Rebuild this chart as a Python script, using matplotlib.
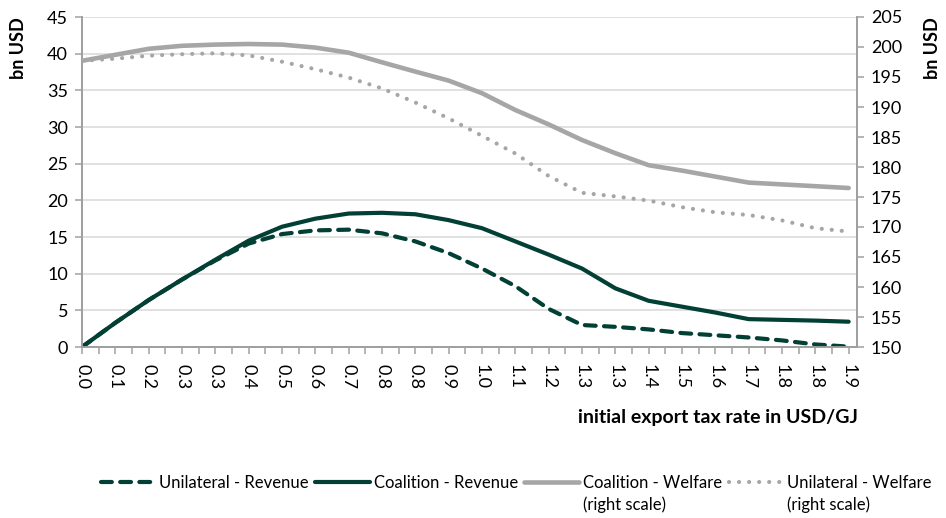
import matplotlib
matplotlib.use("Agg")
import matplotlib.pyplot as plt
import numpy as np

# ---- data ----
x_labels = ["0.0", "0.1", "0.2", "0.3", "0.3", "0.4", "0.5", "0.6", "0.7", "0.8",
            "0.8", "0.9", "1.0", "1.1", "1.2", "1.3", "1.3", "1.4", "1.5", "1.6",
            "1.7", "1.8", "1.8", "1.9"]
unilateral_revenue = [0.0, 3.3, 6.4, 9.2, 11.8, 14.1, 15.4, 15.9, 16.0, 15.5,
                      14.4, 12.8, 10.7, 8.3, 5.2, 3.0, 2.75, 2.4, 1.9, 1.6,
                      1.3, 0.9, 0.35, 0.05]
coalition_revenue = [0.0, 3.3, 6.4, 9.2, 11.9, 14.5, 16.4, 17.5, 18.2, 18.3,
                     18.1, 17.3, 16.2, 14.4, 12.6, 10.7, 8.0, 6.3, 5.5, 4.7,
                     3.8, 3.7, 3.6, 3.45]
coalition_welfare = [197.7, 198.7, 199.7, 200.2, 200.4, 200.5, 200.4, 199.9, 199.05, 197.45,
                     195.9, 194.4, 192.3, 189.5, 187.1, 184.5, 182.3, 180.3, 179.4, 178.4,
                     177.4, 177.1, 176.8, 176.5]
unilateral_welfare = [197.7, 198.05, 198.55, 198.8, 198.95, 198.6, 197.55, 196.3, 194.9, 193.1,
                      190.75, 188.1, 185.2, 182.25, 178.5, 175.7, 175.1, 174.4, 173.3, 172.45,
                      172.0, 171.1, 169.8, 169.25]
series_names = ["Unilateral - Revenue", "Coalition - Revenue",
                "Coalition - Welfare", "Unilateral - Welfare"]
right_note = "(right scale)"
y_label = "bn USD"
x_title = "initial export tax rate in USD/GJ"

# ---- style ----
plt.rcParams['font.family'] = ['Lato', 'DejaVu Sans']
DARK = '#023F35'
GRAY = '#A6A6A6'
AXC = '#A0A0A0'
FS = 12
TFS = 13

fig = plt.figure(figsize=(9.46, 5.18), dpi=100)
ax = fig.add_axes([82/946, 1-347/518, (857-82)/946, (347-17)/518])
ax2 = ax.twinx()

x = np.arange(len(x_labels))

l1, = ax.plot(x, unilateral_revenue, color=DARK, lw=3.0, dashes=(2.6, 2.0),
              dash_capstyle='round', solid_capstyle='round', zorder=3)
l2, = ax.plot(x, coalition_revenue, color=DARK, lw=3.0, solid_capstyle='round',
              solid_joinstyle='round', zorder=3)
l3, = ax2.plot(x, coalition_welfare, color=GRAY, lw=3.3, solid_capstyle='round',
               solid_joinstyle='round', zorder=3)
l4, = ax2.plot(x, unilateral_welfare, color=GRAY, lw=3.0, dashes=(0.01, 2.4),
               dash_capstyle='round', zorder=3)

ax.set_xlim(0, len(x_labels) - 1 + 0.25)
ax.set_ylim(0, 45)
ax.set_yticks(np.arange(0, 46, 5))
ax2.set_ylim(150, 205)
ax2.set_yticks(np.arange(150, 206, 5))

ax.set_xticks(x)
ax.set_xticklabels(x_labels, rotation=-90, fontsize=TFS)
ax.set_xticks(x[:-1] + 0.5, minor=True)
ax.grid(axis='y', color='#D9D9D9', lw=1.1, zorder=0)
ax.set_axisbelow(True)

for a in (ax, ax2):
    for s in a.spines.values():
        s.set_color(AXC)
        s.set_linewidth(1.3)
    a.spines['top'].set_visible(False)
ax.tick_params(axis='both', which='both', color=AXC, length=5, width=1.1,
               labelsize=TFS, labelcolor='black')
ax.tick_params(axis='x', which='both', pad=7)
ax.tick_params(axis='y', pad=5)
ax2.tick_params(axis='y', color=AXC, length=5, width=1.1, labelsize=TFS, pad=5)

fig.text(18/946, 1-17/518, y_label, rotation=90, fontsize=13, fontweight='bold',
         ha='center', va='top')
fig.text(932/946, 1-17/518, y_label, rotation=90, fontsize=13, fontweight='bold',
         ha='center', va='top')
fig.text(858/946, 1-417/518, x_title, fontsize=14, fontweight='bold',
         ha='right', va='center')

leg = fig.legend([l1, l2, l3, l4], series_names, ncol=4, loc='center',
                 bbox_to_anchor=(516/946, 1-483/518), frameon=False,
                 fontsize=FS, handlelength=3.3, handletextpad=0.2,
                 columnspacing=0.4)
fig.canvas.draw()
renderer = fig.canvas.get_renderer()
for t in leg.get_texts()[2:]:
    bb = t.get_window_extent(renderer)
    fig.text(bb.x0/fig.bbox.width, (bb.y0 - 5)/fig.bbox.height, right_note,
             fontsize=FS, ha='left', va='top')

fig.savefig("out.png", dpi=100)
